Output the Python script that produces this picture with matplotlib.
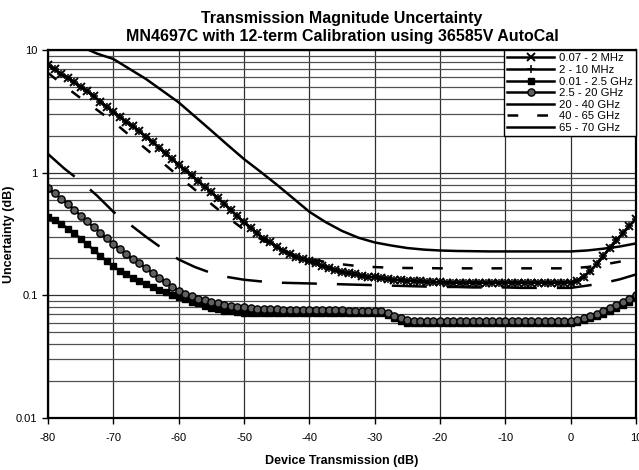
import matplotlib
matplotlib.use("Agg")
import matplotlib.pyplot as plt
from matplotlib.lines import Line2D
from matplotlib.ticker import LogLocator, FixedLocator, NullFormatter

plt.rcParams['font.family'] = ['Liberation Sans', 'DejaVu Sans']

# x values (dB), 1 dB steps for the marker series
x_fine = list(range(-80, 11))
# 2.5 dB steps for the plain line series
x_line = [-80 + 2.5 * i for i in range(37)]

mhz_2 = [7.60, 6.95, 6.35, 5.95, 5.45, 5.00, 4.60, 4.20, 3.80, 3.45,
         3.12, 2.85, 2.60, 2.38, 2.17, 1.97, 1.78, 1.60, 1.44, 1.29,
         1.16, 1.05, 0.95, 0.85, 0.77, 0.69, 0.62, 0.555, 0.495, 0.44,
         0.395, 0.355, 0.32, 0.29, 0.27, 0.25, 0.232, 0.217, 0.205, 0.197,
         0.19, 0.182, 0.174, 0.167, 0.16, 0.155, 0.151, 0.148, 0.145, 0.142,
         0.140, 0.138, 0.136, 0.134, 0.133, 0.132, 0.131, 0.130, 0.129, 0.128,
         0.128, 0.127, 0.127, 0.127, 0.127, 0.127, 0.127, 0.127, 0.127, 0.127,
         0.127, 0.127, 0.127, 0.127, 0.127, 0.127, 0.127, 0.127, 0.127, 0.127,
         0.127, 0.132, 0.142, 0.158, 0.180, 0.210, 0.243, 0.280, 0.320, 0.370,
         0.420]
mhz_10 = list(mhz_2)

ghz_2p5 = [0.433, 0.41, 0.385, 0.35, 0.32, 0.29, 0.26, 0.235, 0.21, 0.19,
           0.172, 0.158, 0.148, 0.139, 0.131, 0.124, 0.117, 0.111, 0.106, 0.101,
           0.097, 0.093, 0.089, 0.086, 0.082, 0.079, 0.077, 0.075, 0.074, 0.073,
           0.072, 0.072, 0.072, 0.072, 0.072, 0.072, 0.072, 0.072, 0.072, 0.072,
           0.072, 0.072, 0.072, 0.072, 0.072, 0.072, 0.072, 0.072, 0.072, 0.072,
           0.072, 0.072, 0.069, 0.065, 0.062, 0.060, 0.060, 0.060, 0.060, 0.060,
           0.060, 0.060, 0.060, 0.060, 0.060, 0.060, 0.060, 0.060, 0.060, 0.060,
           0.060, 0.060, 0.060, 0.060, 0.060, 0.060, 0.060, 0.060, 0.060, 0.060,
           0.060, 0.061, 0.063, 0.065, 0.068, 0.071, 0.075, 0.079, 0.084, 0.089,
           0.095]

ghz_20 = [0.75, 0.68, 0.615, 0.556, 0.50, 0.446, 0.40, 0.36, 0.324, 0.292,
          0.262, 0.238, 0.217, 0.198, 0.182, 0.167, 0.152, 0.139, 0.128, 0.118,
          0.109, 0.103, 0.098, 0.094, 0.091, 0.088, 0.086, 0.084, 0.082, 0.081,
          0.080, 0.079, 0.078, 0.078, 0.077, 0.077, 0.076, 0.076, 0.076, 0.076,
          0.076, 0.076, 0.076, 0.076, 0.076, 0.076, 0.075, 0.075, 0.075, 0.075,
          0.075, 0.075, 0.072, 0.068, 0.065, 0.063, 0.062, 0.062, 0.062, 0.062,
          0.062, 0.062, 0.062, 0.062, 0.062, 0.062, 0.062, 0.062, 0.062, 0.062,
          0.062, 0.062, 0.062, 0.062, 0.062, 0.062, 0.062, 0.062, 0.062, 0.062,
          0.062, 0.063, 0.065, 0.068, 0.071, 0.075, 0.079, 0.083, 0.088, 0.094,
          0.100]

ghz_40 = [1.42, 1.08, 0.85, 0.65, 0.48, 0.38, 0.30, 0.241, 0.196, 0.17,
          0.152, 0.141, 0.134, 0.130, 0.127, 0.126, 0.125, 0.124, 0.123, 0.122,
          0.121, 0.120, 0.119, 0.118, 0.117, 0.117, 0.116, 0.116, 0.116, 0.115,
          0.115, 0.115, 0.115, 0.120, 0.126, 0.135, 0.148]

ghz_65 = [6.5, 5.1, 4.05, 3.25, 2.6, 2.01, 1.56, 1.21, 0.935, 0.725,
          0.556, 0.433, 0.343, 0.289, 0.245, 0.215, 0.198, 0.187, 0.179, 0.173,
          0.170, 0.168, 0.167, 0.167, 0.166, 0.166, 0.166, 0.166, 0.166, 0.166,
          0.166, 0.166, 0.166, 0.170, 0.178, 0.188, 0.200]

ghz_70 = [13.2, 12.0, 10.7, 9.35, 8.45, 7.0, 5.8, 4.66, 3.74, 2.87,
          2.2, 1.68, 1.29, 1.02, 0.80, 0.62, 0.48, 0.395, 0.335, 0.295,
          0.27, 0.255, 0.243, 0.236, 0.232, 0.230, 0.229, 0.228, 0.228, 0.228,
          0.228, 0.228, 0.228, 0.232, 0.240, 0.250, 0.265]

labels = ["0.07 - 2 MHz", "2 - 10 MHz", "0.01 - 2.5 GHz", "2.5 - 20 GHz",
          "20 - 40 GHz", "40 - 65 GHz", "65 - 70 GHz"]

x_ticks = [-80, -70, -60, -50, -40, -30, -20, -10, 0, 10]
y_ticks = [0.01, 0.1, 1, 10]
y_ticklabels = ["0.01", "0.1", "1", "10"]

fig = plt.figure(figsize=(6.39, 4.70), dpi=100)
ax_l, ax_b, ax_w, ax_h = 48 / 639, 1 - 418 / 470, 588 / 639, 368 / 470
ax = fig.add_axes([ax_l, ax_b, ax_w, ax_h])

ax.set_yscale('log')
ax.set_xlim(-80, 10)
ax.set_ylim(0.01, 10)

lw = 1.8
h1, = ax.plot(x_fine, mhz_2, color='black', lw=lw, marker='x', ms=5.2, mew=1.4, label=labels[0])
h2, = ax.plot(x_fine, mhz_10, color='black', lw=lw, marker='+', ms=5.5, mew=1.1, label=labels[1])
h3, = ax.plot(x_fine, ghz_2p5, color='black', lw=lw, marker='s', ms=4.4, mfc='black', mec='black', label=labels[2])
h4, = ax.plot(x_fine, ghz_20, color='black', lw=lw, marker='o', ms=5.2, mfc='#606060', mec='black', mew=1.0, label=labels[3])
h5, = ax.plot(x_line, ghz_40, color='black', lw=lw, dashes=(14, 8), label=labels[4])
h6, = ax.plot(x_line, ghz_65, color='black', lw=lw, dashes=(4.3, 7.6), label=labels[5])
h7, = ax.plot(x_line, ghz_70, color='black', lw=lw, label=labels[6])

ax.xaxis.set_major_locator(FixedLocator(x_ticks))
ax.set_xticklabels([str(v) for v in x_ticks])
ax.yaxis.set_major_locator(FixedLocator(y_ticks))
ax.set_yticklabels(y_ticklabels)
ax.yaxis.set_minor_locator(LogLocator(base=10, subs=range(2, 10)))
ax.yaxis.set_minor_formatter(NullFormatter())
ax.tick_params(axis='both', which='major', direction='out', length=4, width=1, labelsize=8)
ax.tick_params(axis='x', which='major', pad=7)
ax.tick_params(axis='y', which='minor', length=0)

ax.grid(True, which='major', axis='both', color='#303030', lw=0.9)
ax.grid(True, which='minor', axis='y', color='#505050', lw=0.9)
ax.set_axisbelow(True)
for s in ax.spines.values():
    s.set_linewidth(1.6)
    s.set_color('black')

ax.set_xlabel("Device Transmission (dB)", fontsize=9, fontweight='bold')
ax.xaxis.set_label_coords(0.5, -(455 - 418) / 368)
ax.set_ylabel("Uncertainty (dB)", fontsize=9, fontweight='bold')
ax.yaxis.set_label_coords(-(48 - 15) / 588, 0.5)

xc = ax_l + ax_w / 2
fig.text(xc, 1 - 18 / 470, "Transmission Magnitude Uncertainty", ha='center', va='center',
         fontsize=11.5, fontweight='bold')
fig.text(xc, 1 - 37 / 470, "MN4697C with 12-term Calibration using 36585V AutoCal", ha='center', va='center',
         fontsize=11.5, fontweight='bold')

proxy5 = Line2D([], [], color='black', lw=lw)
leg = ax.legend([h1, h2, h3, h4, proxy5, h6, h7], labels, loc='upper right',
                fontsize=8.1, frameon=True, fancybox=False, framealpha=1, edgecolor='black',
                borderaxespad=0, handlelength=4.2, labelspacing=0.14, handletextpad=0.4,
                borderpad=0.3)
leg.get_frame().set_linewidth(1.0)

fig.savefig("out.png", dpi=100)
